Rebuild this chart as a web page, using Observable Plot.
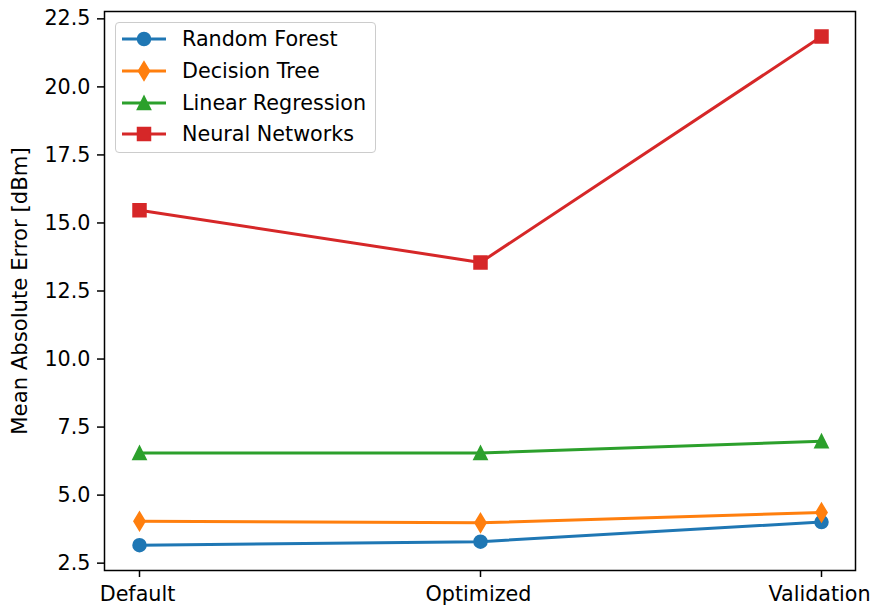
<!DOCTYPE html>
<html><head><meta charset="utf-8">
<script src="https://cdn.jsdelivr.net/npm/d3@7"></script>
<script src="https://cdn.jsdelivr.net/npm/@observablehq/plot@0.6"></script>
<style>
body{margin:0;background:#fff;font-family:"DejaVu Sans",sans-serif;}
#wrap{position:relative;width:872px;height:605px;}
#legend{position:absolute;left:115px;top:22px;width:261px;height:131px;box-sizing:border-box;border:1.3px solid #cccccc;border-radius:4px;background:rgba(255,255,255,0.8);}
.row{position:absolute;left:0;height:30px;display:flex;align-items:center;font-size:20.7px;color:#000;white-space:nowrap;}
.row svg{display:block;}
</style></head><body><div id="wrap"></div>
<script>
const categories = ["Default", "Optimized", "Validation"];
const models = ["Random Forest", "Decision Tree", "Linear Regression", "Neural Networks"];
const randomForest = [3.16, 3.29, 4.01];
const decisionTree = [4.04, 3.98, 4.36];
const linearRegression = [6.55, 6.55, 6.98];
const neuralNetworks = [15.47, 13.55, 21.85];
const yTicks = [2.5, 5.0, 7.5, 10.0, 12.5, 15.0, 17.5, 20.0, 22.5];
const yLabel = "Mean Absolute Error [dBm]";
const palette = ["#1f77b4", "#ff7f0e", "#2ca02c", "#d62728"];

const seriesValues = [randomForest, decisionTree, linearRegression, neuralNetworks];
const table = [];
models.forEach((m, i) => categories.forEach((c, j) => table.push({model: m, stage: c, mae: seriesValues[i][j]})));

const rad = s => Math.sqrt(s / Math.PI);
const symCircle = {draw(ctx, size){const r = rad(size); ctx.moveTo(r, 0); ctx.arc(0, 0, r, 0, 2 * Math.PI);}};
const symThinDiamond = {draw(ctx, size){const r = rad(size); const h = r * Math.SQRT2, w = 0.6 * h; ctx.moveTo(0, -h); ctx.lineTo(w, 0); ctx.lineTo(0, h); ctx.lineTo(-w, 0); ctx.closePath();}};
const symTriangle = {draw(ctx, size){const r = rad(size); ctx.moveTo(0, -r); ctx.lineTo(r, r); ctx.lineTo(-r, r); ctx.closePath();}};
const symSquare = {draw(ctx, size){const r = rad(size); ctx.rect(-r, -r, 2 * r, 2 * r);}};
const symbols = [symCircle, symThinDiamond, symTriangle, symSquare];
const markerR = 6.25;
const fs = 20.7;

const seriesMarks = models.flatMap((m, i) => {
  const d = table.filter(t => t.model === m);
  return [
    Plot.line(d, {x: "stage", y: "mae", stroke: "model", strokeWidth: 3}),
    Plot.dot(d, {x: "stage", y: "mae", fill: "model", stroke: "model", symbol: symbols[i], r: markerR, strokeWidth: 2})
  ];
});

const chart = Plot.plot({
  width: 872, height: 605,
  marginLeft: 104, marginRight: 17, marginTop: 11, marginBottom: 35,
  style: {fontFamily: "DejaVu Sans", fontSize: fs + "px", color: "#000", background: "#fff", overflow: "visible"},
  x: {type: "point", domain: categories, padding: 0.1, label: null},
  y: {domain: [2.23, 22.77], label: null},
  color: {domain: models, range: palette},
  marks: [
    Plot.axisY({ticks: yTicks, tickFormat: d => d.toFixed(1), tickSize: 7, tickPadding: 7, strokeWidth: 1.5, label: null}),
    Plot.axisX({tickSize: 7, text: null, strokeWidth: 1.5, label: null}),
    Plot.axisX({tickSize: 0, tickPadding: 16, dx: -2, label: null}),
    ...seriesMarks,
    Plot.frame({stroke: "#000", strokeWidth: 1.5}),
    Plot.text([yLabel], {text: d => d, frameAnchor: "left", textAnchor: "middle", rotate: -90, dx: -84, fontSize: 21.2, fill: "#000"})
  ]
});
const wrap = document.getElementById("wrap");
wrap.appendChild(chart);

const legend = document.createElement("div");
legend.id = "legend";
const rowCenters = [16, 48, 80, 111];
models.forEach((m, i) => {
  const row = document.createElement("div");
  row.className = "row";
  row.style.top = (rowCenters[i] - 15) + "px";
  const svg = d3.create("svg").attr("width", 66).attr("height", 30);
  svg.append("line").attr("x1", 6).attr("x2", 50).attr("y1", 15).attr("y2", 15).attr("stroke", palette[i]).attr("stroke-width", 3);
  svg.append("path").attr("d", d3.symbol(symbols[i], Math.PI * markerR * markerR)()).attr("transform", "translate(28,15)")
    .attr("fill", palette[i]).attr("stroke", palette[i]).attr("stroke-width", 2);
  row.appendChild(svg.node());
  const span = document.createElement("span");
  span.textContent = m;
  row.appendChild(span);
  legend.appendChild(row);
});
wrap.appendChild(legend);
</script>
</body></html>
